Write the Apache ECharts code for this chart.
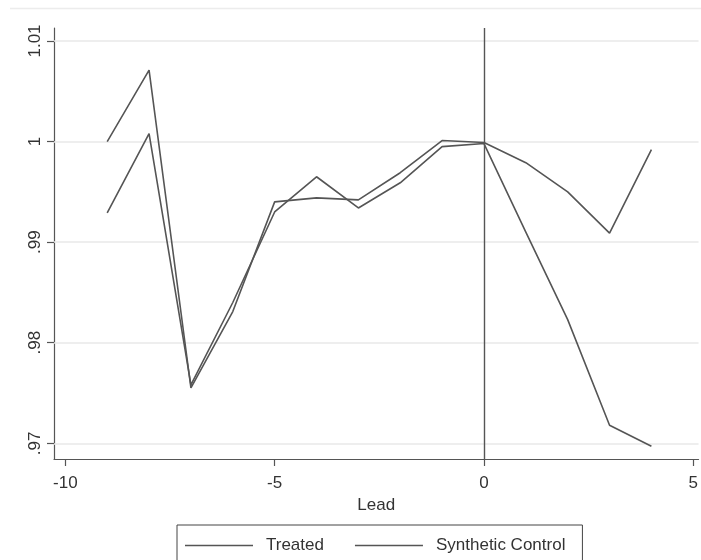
<!DOCTYPE html>
<html>
<head>
<meta charset="utf-8">
<script src="https://cdn.jsdelivr.net/npm/echarts@6/dist/echarts.min.js"></script>
<style>
html,body{margin:0;padding:0;background:#fff;}
#chart{width:701px;height:560px;}
</style>
</head>
<body>
<div id="chart"></div>
<script>
var leads = [-9, -8, -7, -6, -5, -4, -3, -2, -1, 0, 1, 2, 3, 4];
var treated = [0.9929, 1.0008, 0.9758, 0.9840, 0.9930, 0.9965, 0.9934, 0.9959, 0.9995, 0.9998, 0.9910, 0.9823, 0.9718, 0.9697];
var synthetic = [1.0000, 1.0071, 0.9755, 0.9831, 0.9940, 0.9944, 0.9942, 0.9969, 1.0001, 0.9999, 0.9979, 0.9950, 0.9909, 0.9992];
var xTicks = [-10, -5, 0, 5];
var yTicks = [0.97, 0.98, 0.99, 1.00, 1.01];
var yTickLabels = ['.97', '.98', '.99', '1', '1.01'];
var treatmentLead = 0;

var FONT = 'Liberation Sans, Arial, sans-serif';
var LINE = '#555555';

function pairs(xs, ys) { return xs.map(function (x, i) { return [x, ys[i]]; }); }

var chart = echarts.init(document.getElementById('chart'), null, {renderer: 'canvas'});
chart.setOption({
  animation: false,
  backgroundColor: '#ffffff',
  grid: {left: 54, right: 0, top: 28, bottom: 101, containLabel: false},
  graphic: [{
    type: 'line', silent: true,
    shape: {x1: 10, y1: 8.5, x2: 701, y2: 8.5},
    style: {stroke: '#ececec', lineWidth: 1.5}
  }],
  xAxis: {
    type: 'value', min: -10.271, max: 5.126,
    name: 'Lead', nameLocation: 'middle', nameGap: 36,
    nameTextStyle: {fontFamily: FONT, fontSize: 17, color: '#333'},
    axisLine: {show: true, onZero: false, lineStyle: {color: '#555', width: 1.2}},
    axisTick: {show: true, length: 7, customValues: xTicks, lineStyle: {color: '#555', width: 1.2}},
    axisLabel: {show: true, customValues: xTicks, margin: 16, fontFamily: FONT, fontSize: 17, color: '#333'},
    splitLine: {show: false}
  },
  yAxis: {
    type: 'value', min: 0.96844, max: 1.01129,
    axisLine: {show: true, onZero: false, lineStyle: {color: '#555', width: 1.2}},
    axisTick: {show: true, length: 7, customValues: yTicks, lineStyle: {color: '#555', width: 1.2}},
    axisLabel: {
      show: true, customValues: yTicks, rotate: 90, margin: 10,
      fontFamily: FONT, fontSize: 17, color: '#333',
      formatter: function (v) {
        for (var i = 0; i < yTicks.length; i++) { if (Math.abs(yTicks[i] - v) < 1e-9) return yTickLabels[i]; }
        return '';
      }
    },
    splitLine: {show: false}
  },
  legend: {
    data: ['Treated', 'Synthetic Control'],
    left: 177, top: 525, orient: 'horizontal',
    padding: [12, 17, 20, 8],
    itemGap: 31, itemWidth: 68, itemHeight: 1.5,
    icon: 'rect',
    borderColor: '#444', borderWidth: 1,
    textStyle: {fontFamily: FONT, fontSize: 17, color: '#333', padding: [0, 0, 0, 8]}
  },
  series: [
    {
      name: 'Treated', type: 'line', data: pairs(leads, treated),
      symbol: 'none', showSymbol: false,
      lineStyle: {color: LINE, width: 1.6}, itemStyle: {color: LINE},
      z: 5,
      markLine: {
        silent: true, symbol: 'none', label: {show: false},
        lineStyle: {color: '#e8e8e8', width: 1.5, type: 'solid'},
        data: yTicks.map(function (v) { return {yAxis: v}; }),
        z: 1
      }
    },
    {
      name: 'Synthetic Control', type: 'line', data: pairs(leads, synthetic),
      symbol: 'none', showSymbol: false,
      lineStyle: {color: LINE, width: 1.6}, itemStyle: {color: LINE},
      z: 5,
      markLine: {
        silent: true, symbol: 'none', label: {show: false},
        lineStyle: {color: '#555', width: 1.4, type: 'solid'},
        data: [{xAxis: treatmentLead}],
        z: 4
      }
    }
  ]
});
</script>
</body>
</html>
